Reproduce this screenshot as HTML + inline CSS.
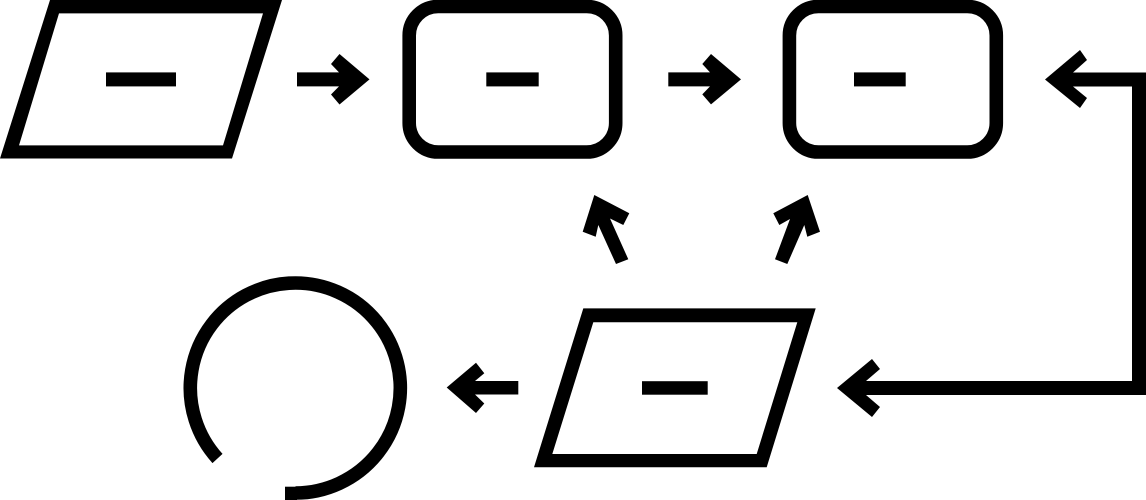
<!DOCTYPE html>
<html>
<head>
<meta charset="utf-8">
<style>
html,body{margin:0;padding:0;background:#fff;width:1146px;height:500px;overflow:hidden}
svg{display:block}
</style>
</head>
<body>
<svg width="1146" height="500" viewBox="0 0 1146 500" xmlns="http://www.w3.org/2000/svg">
<rect width="1146" height="500" fill="#fff"/>
<g fill="#000">
<path fill-rule="evenodd" d="M50 0H282L232 158.500H0ZM59 13.400L19 145.400H223L263 13.400Z"/>
<path fill-rule="evenodd" d="M583.300 308.400H815.700L766.700 467.300H534ZM593.300 322.300L552.300 454H756.700L797.300 322.300Z"/>
<rect x="106" y="72.400" width="70" height="14"/>
<rect x="486.300" y="72.400" width="52.400" height="14"/>
<rect x="854" y="72.400" width="51.700" height="14"/>
<rect x="642" y="381.200" width="65.700" height="13.500"/>
<polygon points="297,72.400 339,72.400 331,64 339.500,54 369.500,79.400 339.500,104.500 331,94.500 339,86.400 297,86.400"/>
<polygon points="668.300,72.400 710,72.400 702.300,64 711,54 741,79.400 711,104.400 702.300,94.400 710,86.400 668.300,86.400"/>
<polygon points="1045,79.500 1080,50 1087,60 1073,72.500 1146,72.500 1146,395 866,395 880,407 872,417 837,388 872,359 880,369 866,381 1132,381 1132,86.500 1073,86.500 1087,98 1080,108"/>
<polygon points="446.700,387.500 476,362.700 484.300,373.300 475,381 518.300,381 518.300,394.500 475,394.500 484.300,403.500 476,413"/>
<polygon points="594.300,195 629.300,213.300 623.300,225 610,218.500 628.300,259.300 616,264 598.300,225 595.700,236.700 582.700,231.700"/>
<polygon points="807.700,195 773.300,213.300 779.300,225 790,219 775,259.300 787.300,264 804.300,225 807.300,236.700 820,231.700"/>
<rect x="285" y="486.700" width="12" height="13.300"/>
</g>
<g fill="none" stroke="#000" stroke-width="13.600">
<rect x="409.200" y="6.500" width="206.500" height="145.500" rx="29" ry="29"/>
<rect x="789.400" y="6.500" width="206.900" height="145.500" rx="29" ry="29"/>
<path d="M217.500 458.500A105 105 0 1 1 295.500 493"/>
</g>
</svg>
</body>
</html>
